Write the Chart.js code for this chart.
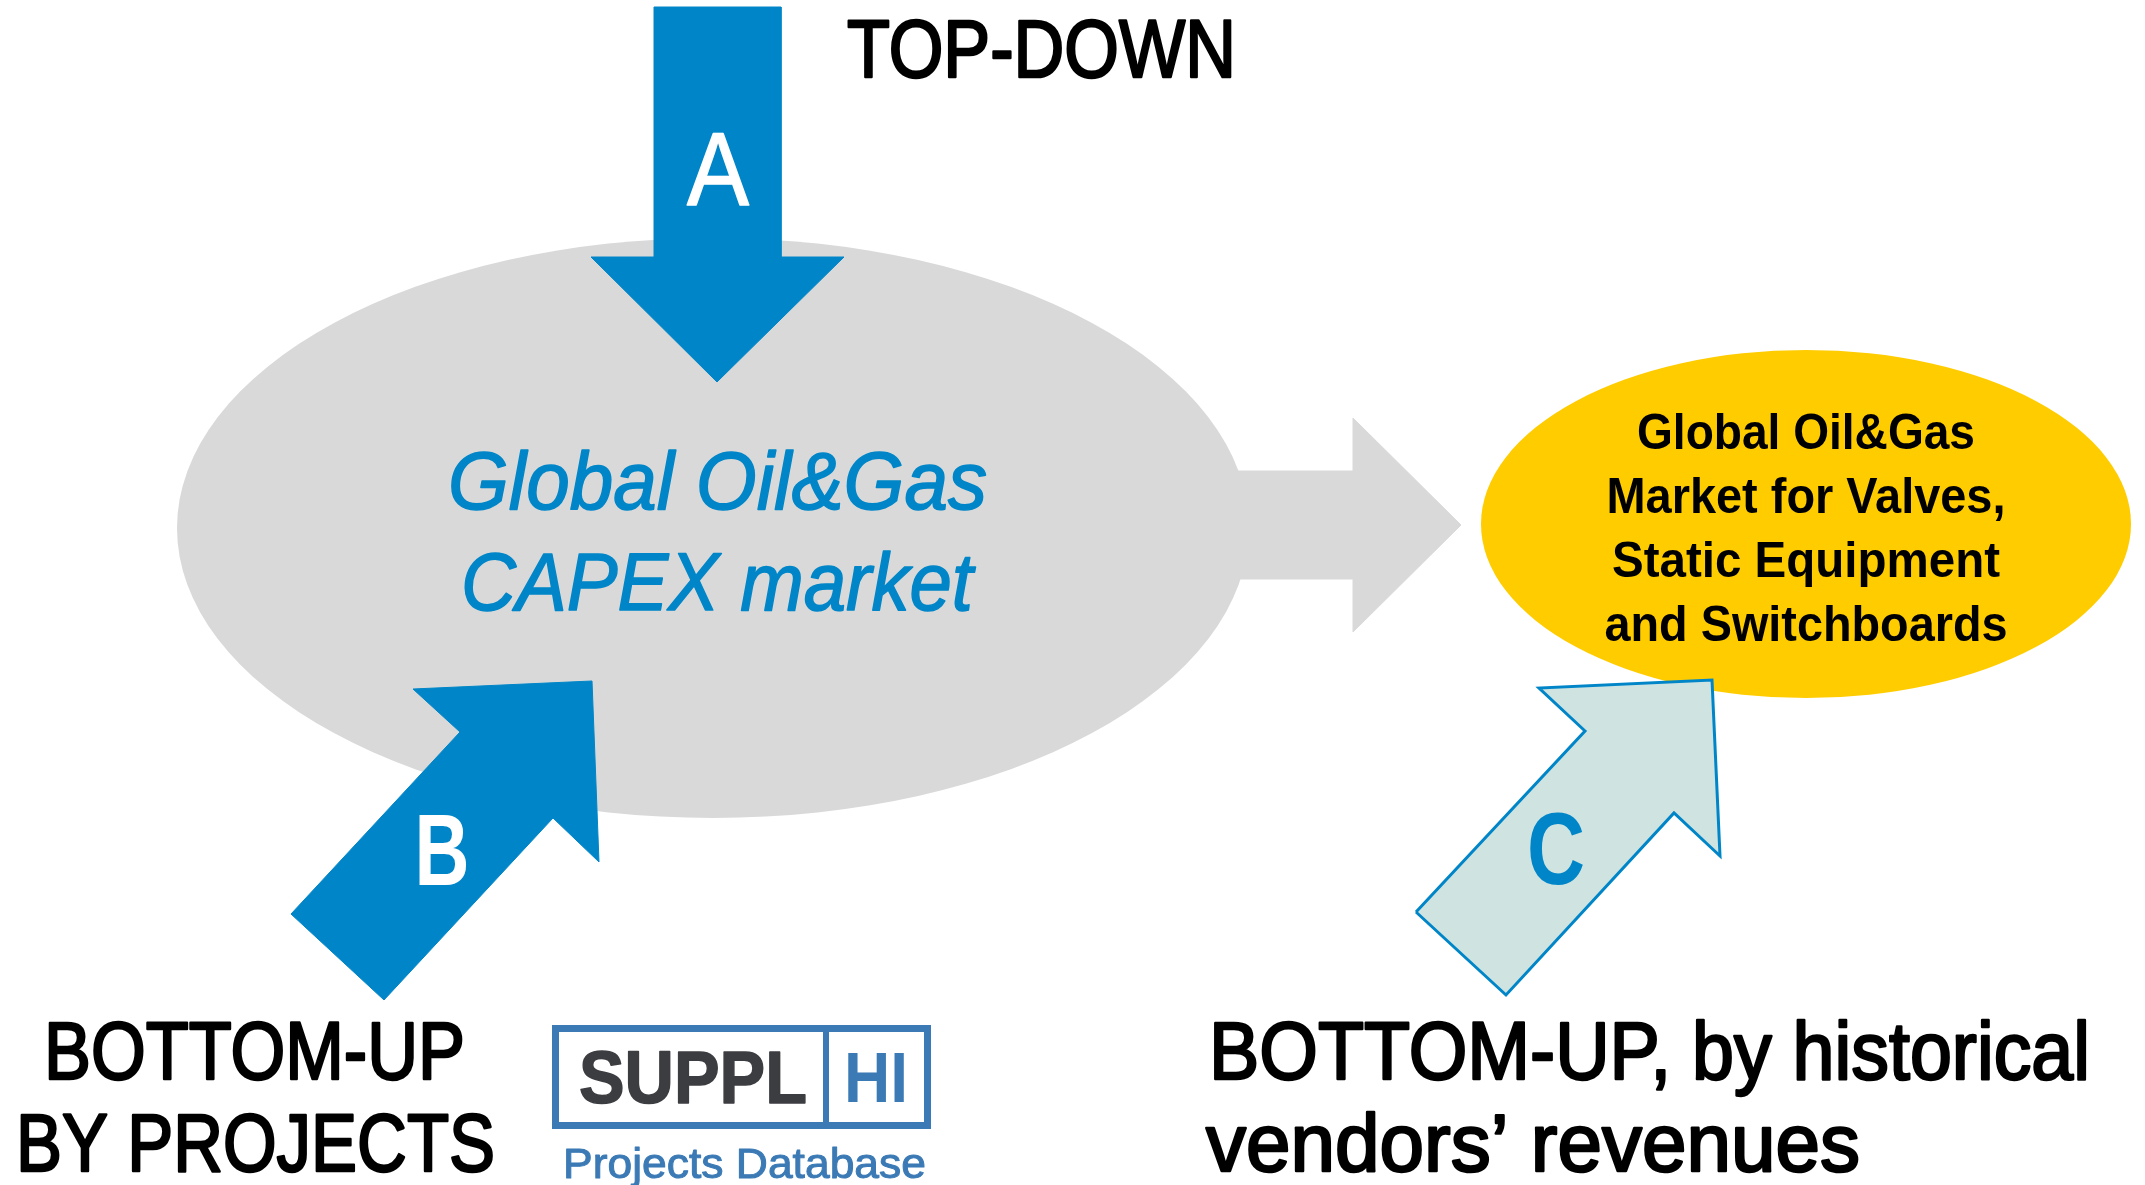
<!DOCTYPE html>
<html>
<head>
<meta charset="utf-8">
<script src="https://cdn.jsdelivr.net/npm/chart.js@4.4.1/dist/chart.umd.min.js"></script>
<style>
html, body { margin: 0; padding: 0; background: #fff; overflow: hidden; }
#wrap { width: 2145px; height: 1185px; }
</style>
</head>
<body>
<div id="wrap"><canvas id="diagram" width="2145" height="1185"></canvas></div>
<script>
// diagram plane: x 0..2145, y 0..1185 (y grows downward)
const arrowA = [[654, 7], [781, 7], [781, 257], [844, 257], [717, 382], [591, 257], [654, 257]];
const arrowB = [[291, 914], [460, 732], [413, 689], [592, 681], [599, 862], [553, 818], [384, 1000]];
const arrowC = [[1416, 912], [1585, 731], [1539, 688], [1712, 680], [1720, 856], [1674, 813], [1506, 995]];
const flowArrow = [[1150, 471], [1353, 471], [1353, 418], [1461, 525], [1353, 632], [1353, 579], [1150, 579]];

// [centerX, centerY, radiusX, radiusY]
const capexEllipse = [713, 528, 536, 290];
const valvesEllipse = [1806, 524, 325, 174];

const capexLines = ['Global Oil&Gas', 'CAPEX market'];
const valvesLines = ['Global Oil&Gas', 'Market for Valves,', 'Static Equipment', 'and Switchboards'];
const letters = ['A', 'B', 'C'];
const topDown = 'TOP-DOWN';
const byProjects = ['BOTTOM-UP', 'BY PROJECTS'];
const byVendors = ['BOTTOM-UP, by historical', 'vendors\u2019 revenues'];
const logoWords = ['SUPPL', 'HI', 'Projects Database'];

const BLUE = '#0086c8';
const GREY = '#d9d9d9';
const YELLOW = '#ffcc00';
const LOGO_BLUE = '#3b7ab5';

function toPoints(poly) {
    const pts = poly.map(p => ({ x: p[0], y: p[1] }));
    pts.push({ x: poly[0][0], y: poly[0][1] });
    return pts;
}

function shape(poly, fillColor, lineColor, lineWidth) {
    return {
        data: toPoints(poly),
        backgroundColor: fillColor,
        borderColor: lineColor,
        borderWidth: lineWidth,
        borderJoinStyle: 'miter',
        fill: 'shape',
        pointRadius: 0,
        tension: 0
    };
}

// text squeezed to the width it has in the picture
function fitText(ctx, txt, x, base, cap, width, o) {
    o = o || {};
    const size = cap / 0.716;
    ctx.font = `${o.style || 'normal'} ${o.weight || 'normal'} ${size}px "Liberation Sans", Arial, sans-serif`;
    const m = ctx.measureText(txt).width;
    ctx.save();
    ctx.translate(x, base);
    ctx.scale(width / m, 1);
    ctx.textAlign = o.align || 'left';
    ctx.textBaseline = 'alphabetic';
    ctx.fillStyle = o.color || '#000';
    ctx.fillText(txt, 0, 0);
    if (o.stroke) {
        // the source text is a bit heavier than the regular face
        ctx.strokeStyle = o.color || '#000';
        ctx.lineWidth = o.stroke;
        ctx.lineJoin = 'round';
        ctx.strokeText(txt, 0, 0);
    }
    ctx.restore();
}

const ellipsePlugin = {
    id: 'ellipses',
    beforeDatasetsDraw(chart) {
        const { ctx, scales: { x, y } } = chart;
        [[capexEllipse, GREY], [valvesEllipse, YELLOW]].forEach(([e, col]) => {
            const cx = x.getPixelForValue(e[0]);
            const cy = y.getPixelForValue(e[1]);
            const rx = Math.abs(x.getPixelForValue(e[0] + e[2]) - cx);
            const ry = Math.abs(y.getPixelForValue(e[1] + e[3]) - cy);
            ctx.save();
            ctx.fillStyle = col;
            ctx.beginPath();
            ctx.ellipse(cx, cy, rx, ry, 0, 0, Math.PI * 2);
            ctx.fill();
            ctx.restore();
        });
    }
};

const labelPlugin = {
    id: 'labels',
    afterDatasetsDraw(chart) {
        const { ctx, scales: { x, y } } = chart;
        const px = v => x.getPixelForValue(v);
        const py = v => y.getPixelForValue(v);

        fitText(ctx, topDown, px(847), py(77), 59, 389, { stroke: 2.5 });

        fitText(ctx, letters[0], px(718), py(205), 74, 62, { color: '#fff', align: 'center', stroke: 1.5 });
        fitText(ctx, letters[1], px(442), py(885), 73, 55, { color: '#fff', align: 'center', weight: 'bold' });
        fitText(ctx, letters[2], px(1556), py(884), 73, 58, { color: BLUE, align: 'center', weight: 'bold' });

        fitText(ctx, capexLines[0], px(448), py(509), 58, 539, { color: BLUE, style: 'italic', stroke: 1.5 });
        fitText(ctx, capexLines[1], px(461), py(610), 58, 512, { color: BLUE, style: 'italic', stroke: 1.5 });

        const vw = [338, 399, 388, 403];
        valvesLines.forEach((t, i) => {
            fitText(ctx, t, px(1806), py(449 + i * 64), 36, vw[i], { align: 'center', weight: 'bold' });
        });

        fitText(ctx, byProjects[0], px(44), py(1079), 59, 421, { stroke: 2.5 });
        fitText(ctx, byProjects[1], px(16), py(1171), 59, 479, { stroke: 2.5 });
        fitText(ctx, byVendors[0], px(1209), py(1079), 59, 881, { stroke: 2.5 });
        fitText(ctx, byVendors[1], px(1206), py(1171), 59, 654, { stroke: 2.5 });

        // SUPPLHI logo
        ctx.save();
        ctx.strokeStyle = LOGO_BLUE;
        ctx.lineWidth = 7;
        ctx.strokeRect(px(555.5), py(1028.5), px(927.5) - px(555.5), py(1125.5) - py(1028.5));
        ctx.fillStyle = LOGO_BLUE;
        ctx.fillRect(px(823), py(1028), px(829) - px(823), py(1126) - py(1028));
        ctx.restore();
        fitText(ctx, logoWords[0], px(579), py(1103), 53, 228, { color: '#3c3d41', weight: 'bold', stroke: 1.5 });
        fitText(ctx, logoWords[1], px(844), py(1102), 50, 64, { color: LOGO_BLUE, weight: 'bold' });
        fitText(ctx, logoWords[2], px(563), py(1178), 31, 363, { color: LOGO_BLUE, stroke: 1 });
    }
};

new Chart(document.getElementById('diagram'), {
    type: 'line',
    data: {
        datasets: [
            shape(arrowC, '#cfe4e0', BLUE, 3),
            shape(arrowB, BLUE, BLUE, 1),
            shape(arrowA, BLUE, BLUE, 1),
            shape(flowArrow, GREY, GREY, 1)
        ]
    },
    options: {
        responsive: false,
        devicePixelRatio: 1,
        animation: false,
        events: [],
        layout: { padding: 0 },
        scales: {
            x: { type: 'linear', min: 0, max: 2145, display: false },
            y: { type: 'linear', min: 0, max: 1185, reverse: true, display: false }
        },
        plugins: {
            legend: { display: false },
            tooltip: { enabled: false }
        }
    },
    plugins: [ellipsePlugin, labelPlugin]
});
</script>
</body>
</html>
